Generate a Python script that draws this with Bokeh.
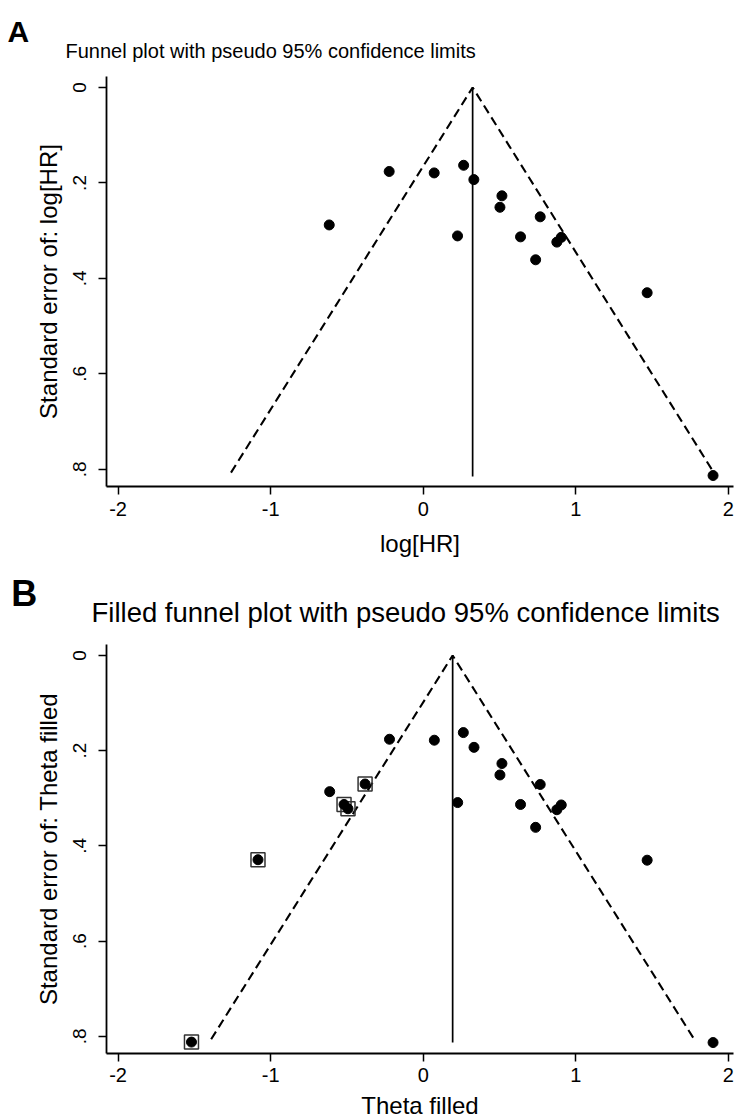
from bokeh.plotting import figure
from bokeh.models import Range1d, FixedTicker
from bokeh.layouts import column
from bokeh.core.properties import value
from bokeh.embed import file_html
from bokeh.resources import INLINE

# ---------------- data ----------------
# Panel A: observed studies
log_hr = [-0.616, -0.223, 0.072, 0.265, 0.332, 0.516, 0.503, 0.767,
          0.225, 0.638, 0.876, 0.905, 0.737, 1.468, 1.900]
se_log_hr = [0.288, 0.176, 0.179, 0.163, 0.193, 0.227, 0.251, 0.271,
             0.311, 0.313, 0.324, 0.314, 0.361, 0.430, 0.813]

# Panel A funnel: left end, apex, right end of pseudo 95% limits
funnel_a_x = [-1.26, 0.324, 1.905]
funnel_a_y = [0.807, 0.0, 0.807]
center_a_x = [0.324, 0.324]
center_a_y = [0.0, 0.815]

# Panel B: observed studies plus filled (imputed) studies
theta_obs = [-0.613, -0.221, 0.073, 0.263, 0.333, 0.516, 0.503, 0.767,
             0.226, 0.638, 0.876, 0.905, 0.737, 1.468, 1.900]
se_theta_obs = [0.286, 0.176, 0.178, 0.162, 0.193, 0.227, 0.251, 0.271,
                0.309, 0.313, 0.324, 0.314, 0.361, 0.430, 0.813]
theta_filled = [-0.381, -0.519, -0.493, -1.083, -1.519]
se_theta_filled = [0.270, 0.313, 0.322, 0.429, 0.812]

funnel_b_x = [-1.39, 0.193, 1.776]
funnel_b_y = [0.806, 0.0, 0.806]
center_b_x = [0.193, 0.193]
center_b_y = [0.0, 0.813]

x_ticks = [-2, -1, 0, 1, 2]
x_tick_labels = ["-2", "-1", "0", "1", "2"]
y_ticks = [0, 0.2, 0.4, 0.6, 0.8]
y_tick_labels = ["0", ".2", ".4", ".6", ".8"]

FONT = "Liberation Sans"
W = 740


def text_strip(height, items):
    """A figure without axes whose ranges are in pixels, used for headings."""
    p = figure(width=W, height=height, output_backend="svg", toolbar_location=None,
               title=None, x_range=Range1d(0, W), y_range=Range1d(height, 0),
               x_axis_location=None, y_axis_location=None,
               min_border=0, min_border_left=0, min_border_right=0,
               min_border_top=0, min_border_bottom=0,
               background_fill_color="white", border_fill_color="white",
               outline_line_color=None)
    p.frame_align = False
    p.grid.visible = False
    for (x, y, txt, font, size, style, align) in items:
        p.text(x=[x], y=[y], text=[txt], text_font=value(font),
               text_font_size=value(size), text_font_style=value(style),
               text_baseline=value("middle"), text_align=value(align),
               text_color="black")
    return p


def make_panel(height, top, bottom, xlabel, ylabel, tick_standoff, xlabel_standoff):
    p = figure(width=W, height=height, output_backend="svg", toolbar_location=None,
               title=None,
               x_range=Range1d(-2.076, 2.034), y_range=Range1d(0.836, -0.023),
               min_border_left=106, min_border_right=7,
               min_border_top=top, min_border_bottom=bottom,
               background_fill_color="white", border_fill_color="white",
               outline_line_color=None)
    p.frame_align = False
    p.grid.visible = False
    for ax in (p.xaxis[0], p.yaxis[0]):
        ax.axis_line_color = "black"
        ax.axis_line_width = 1.8
        ax.major_tick_line_color = "black"
        ax.major_tick_line_width = 1.5
        ax.major_tick_in = 0
        ax.major_tick_out = 8
        ax.minor_tick_line_color = None
        ax.major_label_text_font = FONT
        ax.major_label_text_color = "black"
        ax.axis_label_text_font = FONT
        ax.axis_label_text_font_style = "normal"
        ax.axis_label_text_color = "black"
        ax.axis_label_text_font_size = "24px"
    p.xaxis.ticker = FixedTicker(ticks=x_ticks)
    p.xaxis.major_label_overrides = dict(zip(x_ticks, x_tick_labels))
    p.xaxis.major_label_text_font_size = "20px"
    p.xaxis.major_label_standoff = tick_standoff
    if xlabel:
        p.xaxis.axis_label = xlabel
        p.xaxis.axis_label_standoff = xlabel_standoff

    p.yaxis.ticker = FixedTicker(ticks=y_ticks)
    p.yaxis.major_label_overrides = dict(zip(y_ticks, y_tick_labels))
    p.yaxis.major_label_orientation = "vertical"
    p.yaxis.major_label_text_font_size = "19px"
    p.yaxis.major_label_standoff = 12
    p.yaxis.axis_label = ylabel
    p.yaxis.axis_label_standoff = 9
    return p


# ---- Panel A ----  (y of a heading = middle of its text line)
headA = text_strip(66, [
    (7, 31.3, "A", FONT, "30px", "bold", "left"),
    (65, 50.4, "Funnel plot with pseudo 95% confidence limits",
     FONT, "20px", "normal", "left"),
])
# frame y 76..486
pA = make_panel(494, 10, 74, "log[HR]", "Standard error of: log[HR]", 7, 11)
pA.line(funnel_a_x, funnel_a_y, line_color="black", line_width=2.1, line_dash="9 5")
pA.line(center_a_x, center_a_y, line_color="black", line_width=1.7)
pA.scatter(log_hr, se_log_hr, marker="circle", size=10, color="black")

# ---- Panel B ----
headB = text_strip(76, [
    (10.7, 32.5, "B", FONT, "36px", "bold", "left"),
    (91, 52.2, "Filled funnel plot with pseudo 95% confidence limits",
     FONT, "27.5px", "normal", "left"),
])
# frame y 644..1053
pB = make_panel(454, 8, 37, None, "Standard error of: Theta filled", 6, 0)
pB.line(funnel_b_x, funnel_b_y, line_color="black", line_width=2.1, line_dash="9 5")
pB.line(center_b_x, center_b_y, line_color="black", line_width=1.7)
pB.scatter(theta_obs, se_theta_obs, marker="circle", size=10, color="black")
pB.scatter(theta_filled, se_theta_filled, marker="square", size=14,
           fill_color=None, line_color="#333333", line_width=1.5)
pB.scatter(theta_filled, se_theta_filled, marker="circle", size=10, color="black")

footB = text_strip(29, [
    (419.5, 14.5, "Theta filled", FONT, "24px", "normal", "center"),
])

layout = column(headA, pA, headB, pB, footB, spacing=0)
open("out.html", "w").write(file_html(layout, INLINE))
